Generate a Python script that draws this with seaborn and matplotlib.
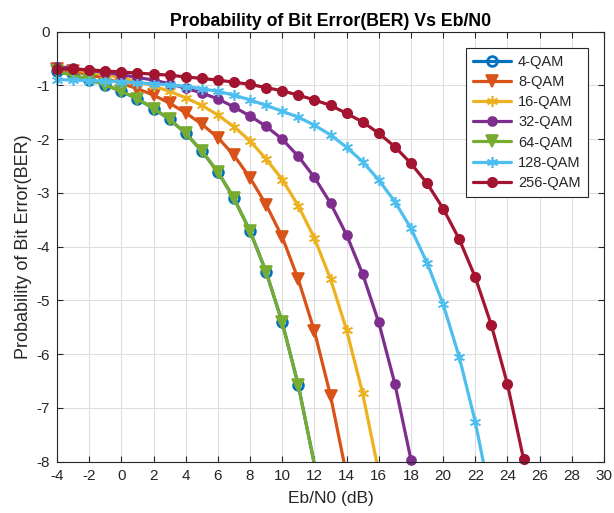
import matplotlib
matplotlib.use("Agg")
import matplotlib.pyplot as plt
from matplotlib.lines import Line2D
import seaborn as sns

# Eb/N0 grid in dB (1 dB steps)
ebn0_db = list(range(-4, 27))

# log10(BER) per modulation order
ber_4qam = [-0.74, -0.81, -0.89, -0.99, -1.11, -1.25, -1.43, -1.63, -1.89, -2.22,
            -2.61, -3.10, -3.71, -4.47, -5.41, -6.58, -8.05]
ber_8qam = [-0.69, -0.74, -0.80, -0.87, -0.96, -1.06, -1.18, -1.33, -1.51, -1.72,
            -1.97, -2.30, -2.72, -3.22, -3.82, -4.61, -5.57, -6.77, -8.25]
ber_16qam = [-0.67, -0.71, -0.75, -0.80, -0.86, -0.93, -1.01, -1.11, -1.23, -1.37,
             -1.55, -1.77, -2.03, -2.37, -2.75, -3.24, -3.84, -4.60, -5.55, -6.73,
             -8.20]
ber_32qam = [-0.65, -0.68, -0.72, -0.76, -0.80, -0.85, -0.90, -0.97, -1.05, -1.14,
             -1.25, -1.40, -1.57, -1.76, -2.00, -2.32, -2.71, -3.19, -3.78, -4.51,
             -5.41, -6.55, -7.96, -9.70]
ber_64qam = [-0.74, -0.81, -0.89, -0.99, -1.11, -1.25, -1.43, -1.63, -1.89, -2.22,
             -2.61, -3.10, -3.71, -4.47, -5.41, -6.58, -8.05]
ber_128qam = [-0.89, -0.90, -0.91, -0.92, -0.93, -0.95, -0.97, -0.99, -1.02, -1.06,
              -1.11, -1.18, -1.27, -1.37, -1.48, -1.59, -1.74, -1.92, -2.15, -2.42,
              -2.76, -3.16, -3.66, -4.30, -5.07, -6.05, -7.26, -8.75]
ber_256qam = [-0.69, -0.70, -0.71, -0.73, -0.75, -0.77, -0.79, -0.81, -0.84, -0.87,
              -0.90, -0.94, -0.98, -1.04, -1.10, -1.18, -1.27, -1.37, -1.52, -1.68,
              -1.89, -2.14, -2.45, -2.82, -3.29, -3.86, -4.57, -5.46, -6.56, -7.95,
              -9.66]

labels = ["4-QAM", "8-QAM", "16-QAM", "32-QAM", "64-QAM", "128-QAM", "256-QAM"]
series = [ber_4qam, ber_8qam, ber_16qam, ber_32qam, ber_64qam, ber_128qam, ber_256qam]

x_ticks = list(range(-4, 31, 2))
y_ticks = list(range(-8, 1))

colors = ["#0072BD", "#D95319", "#EDB120", "#7E2F8E", "#77AC30", "#4DBEEE", "#A2142F"]
asterisk = (6, 2, 0)
markers = ["o", "v", asterisk, "o", "v", asterisk, "o"]
filled = [False, True, True, True, True, True, True]
msizes = [7, 9, 8, 6.5, 9, 8, 6.8]

sns.set_theme(style="ticks")
plt.rcParams["font.family"] = ["Liberation Sans", "DejaVu Sans"]
plt.rcParams["axes.unicode_minus"] = False

fig = plt.figure(figsize=(6.14, 5.13), dpi=100)
fig.patch.set_facecolor("white")
ax = fig.add_axes([57 / 614, 1 - 461.7 / 513, (604 - 57) / 614, (461.7 - 31.7) / 513])
ax.set_facecolor("white")

handles = []
for name, vals, c, m, f, ms in zip(labels, series, colors, markers, filled, msizes):
    xs = ebn0_db[:len(vals)]
    style = dict(color=c, marker=m, markersize=ms,
                 markeredgewidth=2 if not f else 1.2,
                 markeredgecolor=c, markerfacecolor=c if f else "none")
    # the curve itself, clipped to the axes
    sns.lineplot(x=xs, y=vals, ax=ax, color=c, linewidth=2.3, legend=False)
    # markers only for points inside the y-range, drawn whole
    xin = [a for a, b in zip(xs, vals) if b >= -8]
    yin = [b for b in vals if b >= -8]
    ax.plot(xin, yin, linestyle="none", clip_on=False, **style)
    handles.append(Line2D([], [], linewidth=2.3, **style))

ax.set_xlim(-4, 30)
ax.set_ylim(-8, 0)
ax.set_xticks(x_ticks)
ax.set_yticks(y_ticks)
ax.set_xticklabels([str(t) for t in x_ticks])
ax.set_yticklabels([str(t) for t in y_ticks])
ax.grid(True, color="#dedede", linewidth=0.8)
ax.set_axisbelow(True)
for s in ax.spines.values():
    s.set_color("#262626")
    s.set_linewidth(0.8)
ax.tick_params(direction="in", length=4, width=0.8, color="#262626",
               top=True, right=True, labelsize=11, labelcolor="#262626", pad=5)

ax.set_title("Probability of Bit Error(BER) Vs Eb/N0", fontsize=12.8, fontweight="bold",
             pad=4, color="black")
ax.set_xlabel("Eb/N0 (dB)", fontsize=12.5, color="#262626", labelpad=6)
ax.set_ylabel("Probability of Bit Error(BER)", fontsize=13, color="#262626", labelpad=3)

leg = ax.legend(handles, labels, loc="upper right", fontsize=10.5, frameon=True,
                fancybox=False, edgecolor="#262626", framealpha=1, handlelength=2.6,
                labelspacing=0.42, borderaxespad=1.1, handletextpad=0.5,
                borderpad=0.5)
leg.get_frame().set_linewidth(0.8)

fig.savefig("out.png", dpi=100, facecolor="white")
